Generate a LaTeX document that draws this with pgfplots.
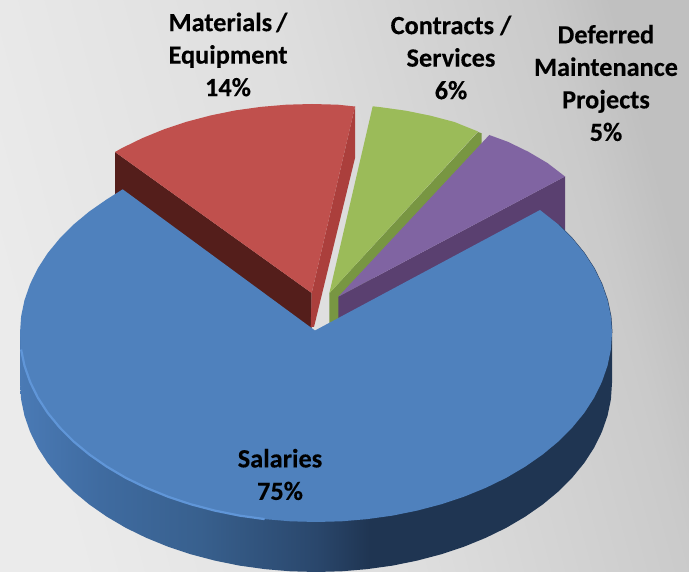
\documentclass[border=0pt]{standalone}
\usepackage{pgfplots}
\pgfplotsset{compat=1.18}
\usepackage{fontspec}
\setmainfont{Carlito}
\newfontfamily\lblfont{Carlito}[BoldFeatures={FakeBold=0.3}]
\definecolor{sA}{HTML}{4A7AB5}
\definecolor{sB}{HTML}{3F6BA0}
\definecolor{sC}{HTML}{38608E}
\definecolor{sD}{HTML}{2A476C}
\definecolor{sE}{HTML}{1F3552}
\pgfdeclarehorizontalshading{sideblue}{100bp}{color(0bp)=(sA); color(25bp)=(sA); color(31.8bp)=(sB); color(40.2bp)=(sC); color(50bp)=(sD); color(54.6bp)=(sE); color(75bp)=(sE); color(100bp)=(sE)}
\definecolor{bgA}{HTML}{EBEBEB}
\definecolor{bgB}{HTML}{DEDEDE}
\definecolor{bgC}{HTML}{D2D2D2}
\definecolor{bgD}{HTML}{CACACA}
\definecolor{bgE}{HTML}{C0C0C0}
\pgfdeclarehorizontalshading{bgshade}{100bp}{color(0bp)=(bgA); color(25bp)=(bgA); color(50bp)=(bgB); color(62bp)=(bgC); color(70bp)=(bgD); color(75bp)=(bgE); color(100bp)=(bgE)}
\tikzset{lbl/.style={font=\lblfont\fontsize{26.3}{32.5}\selectfont\bfseries, align=center, text=black, inner sep=0pt}}
\begin{document}
\begin{tikzpicture}
\begin{axis}[
  scale only axis, width=689pt, height=572pt,
  xmin=0, xmax=689, ymin=0, ymax=572, y dir=reverse,
  hide axis, clip=true,
]
% background
\addplot[draw=none, shade, shading=bgshade, shading angle=15] coordinates {(0,0) (689,0) (689,572) (0,572)} -- cycle;
% red sides
\addplot[draw=none, fill={rgb,255:red,84;green,30;blue,27}] coordinates {(115,152) (311.7,293) (311.7,340) (115,200)} -- cycle;
\addplot[draw=none, fill={rgb,255:red,171;green,63;blue,60}] coordinates {(355,106.5) (355,158) (314,327) (310.7,327) (311.7,293)} -- cycle;
% red top
\addplot[draw=none, fill={rgb,255:red,192;green,80;blue,77}] coordinates {(311.7,293) (115,152) (121.7,148.2) (142.2,138.2) (164,129.3) (186.9,121.7) (210.8,115.4) (235.4,110.4) (260.6,106.9) (286.2,104.7) (312,104) (337.8,104.7) (355,106.5)} -- cycle;
% green side
\addplot[draw=none, fill={rgb,255:red,120;green,150;blue,66}] coordinates {(329.3,293.3) (478,132) (481.7,133.3) (481.7,145) (338.3,321) (329.3,323)} -- cycle;
% green top
\addplot[draw=none, fill={rgb,255:red,155;green,187;blue,89}] coordinates {(329.3,293.3) (372.7,106.3) (380.7,107.2) (405.9,110.7) (430.5,115.7) (454.4,122) (478,131.5)} -- cycle;
% purple side
\addplot[draw=none, fill={rgb,255:red,90;green,64;blue,112}] coordinates {(338.3,296.7) (565,176.5) (565,230) (338.3,345)} -- cycle;
% purple top
\addplot[draw=none, fill={rgb,255:red,128;green,100;blue,162}] coordinates {(338.3,296.7) (489.3,135) (508.1,141.9) (528.6,151.9) (547.6,163.1) (565,176.5)} -- cycle;
% blue side
\addplot[draw=none, shade, shading=sideblue] coordinates {(20,333) (20,383) (21.1,399.5) (24.5,415.8) (30.1,431.9) (37.8,447.6) (47.7,462.9) (59.7,477.5) (73.5,491.4) (89.3,504.5) (106.7,516.6) (125.7,527.8) (146.2,537.8) (168,546.7) (190.9,554.3) (214.8,560.6) (239.4,565.6) (264.6,569.1) (290.2,571.3) (316,572) (341.8,571.3) (367.4,569.1) (392.6,565.6) (417.2,560.6) (441.1,554.3) (464,546.7) (485.8,537.8) (506.3,527.8) (525.3,516.6) (542.7,504.5) (558.5,491.4) (572.3,477.5) (584.3,462.9) (594.2,447.6) (601.9,431.9) (607.5,415.8) (610.9,399.5) (612,383) (612,333)} -- cycle;
% dark edge on the right
\addplot[color={rgb,255:red,35;green,60;blue,95}, line width=1pt] coordinates {(612,333) (610.9,316.5) (607.5,300.2) (601.9,284.1) (594.2,268.4) (584.3,253.1) (572.3,238.5) (558.5,224.6)};
% blue top
\addplot[draw=none, fill={rgb,255:red,79;green,129;blue,189}] coordinates {(315,330.5) (122.7,189.3) (106.7,199.4) (89.3,211.5) (73.5,224.6) (59.7,238.5) (47.7,253.1) (37.8,268.4) (30.1,284.1) (24.5,300.2) (21.1,316.5) (20,333) (21.1,349.5) (24.5,365.8) (30.1,381.9) (37.8,397.6) (47.7,412.9) (59.7,427.5) (73.5,441.4) (89.3,454.5) (106.7,466.6) (125.7,477.8) (146.2,487.8) (168,496.7) (190.9,504.3) (214.8,510.6) (239.4,515.6) (264.6,519.1) (290.2,521.3) (316,522) (341.8,521.3) (367.4,519.1) (392.6,515.6) (417.2,510.6) (441.1,504.3) (464,496.7) (485.8,487.8) (506.3,477.8) (525.3,466.6) (542.7,454.5) (558.5,441.4) (572.3,427.5) (584.3,412.9) (594.2,397.6) (601.9,381.9) (607.5,365.8) (610.9,349.5) (612,333) (610.9,316.5) (607.5,300.2) (601.9,284.1) (594.2,268.4) (584.3,253.1) (572.3,238.5) (558.5,224.6) (540,210)} -- cycle;
% rim highlight
\addplot[color={rgb,255:red,96;green,150;blue,216}, line width=2.2pt] coordinates {(21.1,349.5) (24.5,365.8) (30.1,381.9) (37.8,397.6) (47.7,412.9) (59.7,427.5) (73.5,441.4) (89.3,454.5) (106.7,466.6) (125.7,477.8) (146.2,487.8) (168,496.7) (190.9,504.3) (214.8,510.6) (239.4,515.6) (264.6,519.1)};
\node[lbl] at (axis cs:228,54.5) {Materials\kern-2pt\ /\\Equipment\\14\%};
\node[lbl] at (axis cs:451,57.5) {Contracts /\\Services\\6\%};
\node[lbl] at (axis cs:606,83) {Deferred\\Maintenance\\Projects\\5\%};
\node[lbl] at (axis cs:280,474.5) {Salaries\\75\%};
\end{axis}
\end{tikzpicture}
\end{document}
